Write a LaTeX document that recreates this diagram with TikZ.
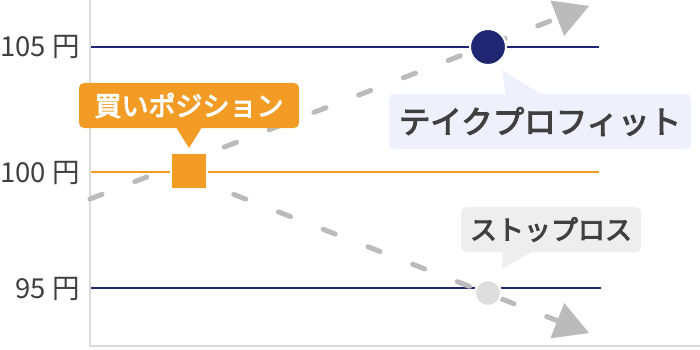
\documentclass[tikz,border=0pt]{standalone}
\usepackage{fontspec}
\setmainfont{Noto Sans CJK JP}
\newfontfamily\jpmed{Noto Sans CJK JP}[FakeBold=3.5]
\usetikzlibrary{arrows.meta,calc}
\definecolor{navy}{HTML}{1F2772}
\definecolor{orng}{HTML}{F39C25}
\definecolor{dashgray}{HTML}{BBBBBB}
\definecolor{axisgray}{HTML}{DCDCDC}
\definecolor{lav}{HTML}{EEF0FB}
\definecolor{lgray}{HTML}{EEEEEE}
\definecolor{cgray}{HTML}{DDDDDD}
\definecolor{txt}{HTML}{404040}
\tikzset{
  axisline/.style={draw=axisgray, line width=2pt},
  navyline/.style={draw=navy, line width=2pt},
  orangeline/.style={draw=orng, line width=2pt},
  dashline/.style={draw=dashgray, line width=5pt, line cap=round, dash pattern=on 13pt off 35pt,
    -{Triangle[length=34pt,width=38pt,round=false,line width=0pt,fill=dashgray]}},
  ylabel/.style={anchor=east, text=txt, font=\fontsize{27.5}{31}\selectfont, inner sep=0pt},
  callbox/.style={rounded corners=5pt, inner sep=0pt},
}
\begin{document}
\begin{tikzpicture}[x=1pt,y=-1pt]
\useasboundingbox (0,0) rectangle (700,350);
% axes
\coordinate (axtop) at (90,0);
\coordinate (axcorner) at (90,346);
\coordinate (axright) at (700,346);
\draw[axisline] (axtop) -- (axcorner) -- (axright);
% price lines
\coordinate (l105a) at (91,47);  \coordinate (l105b) at (599,47);
\coordinate (l100a) at (91,172); \coordinate (l100b) at (599,172);
\coordinate (l95a)  at (91,288); \coordinate (l95b)  at (601,288);
\draw[navyline] (l105a) -- (l105b);
\draw[orangeline] (l100a) -- (l100b);
\draw[navyline] (l95a) -- (l95b);
% labels
\node[ylabel] (t105) at (80,47) {105 円};
\node[ylabel] (t100) at (80,173) {100 円};
\node[ylabel] (t95)  at (80,289) {95 円};
% dashed arrows
\coordinate (upstart) at (90,199);
\coordinate (uptip) at (589,6);
\coordinate (dnstart) at (189,177);
\coordinate (dntip) at (589,333);
\draw[dashline] (upstart) -- (uptip);
\draw[dashline] (dnstart) -- (dntip);
% markers
\node[draw=white, line width=2pt, fill=orng, minimum size=36pt, inner sep=0pt] (buysq) at (189,171) {};
\node[circle, draw=white, line width=2pt, fill=navy, minimum size=36pt, inner sep=0pt] (tp) at (488,47) {};
\node[circle, draw=white, line width=2pt, fill=cgray, minimum size=26pt, inner sep=0pt] (sl) at (488,293) {};
% callouts
\node[callbox, fill=orng, text=white, minimum width=220pt, minimum height=45pt,
      font=\jpmed\fontsize{27}{31}\selectfont] (buy) at (189,105.5) {買いポジション};
\fill[orng] ($(buy.south)+(-13,-1)$) -- ($(buysq.north)+(0,-4)$) -- ($(buy.south)+(13,-1)$) -- cycle;
\node[callbox, fill=lav, text=txt, minimum width=302pt, minimum height=55pt,
      font=\jpmed\fontsize{31.5}{36}\selectfont] (tpc) at (540,121.5) {テイクプロフィット};
\fill[lav] ($(tpc.north west)+(117,1)$) -- ($(tp.south)+(14,4)$) -- ($(tpc.north west)+(153,1)$) -- cycle;
\node[callbox, fill=lgray, text=txt, minimum width=180pt, minimum height=45pt,
      font=\jpmed\fontsize{27}{31}\selectfont] (slc) at (551,229.5) {ストップロス};
\fill[lgray] ($(slc.south west)+(42,-1)$) -- ($(sl.north)+(14,-10)$) -- ($(slc.south west)+(72,-1)$) -- cycle;
\end{tikzpicture}
\end{document}
